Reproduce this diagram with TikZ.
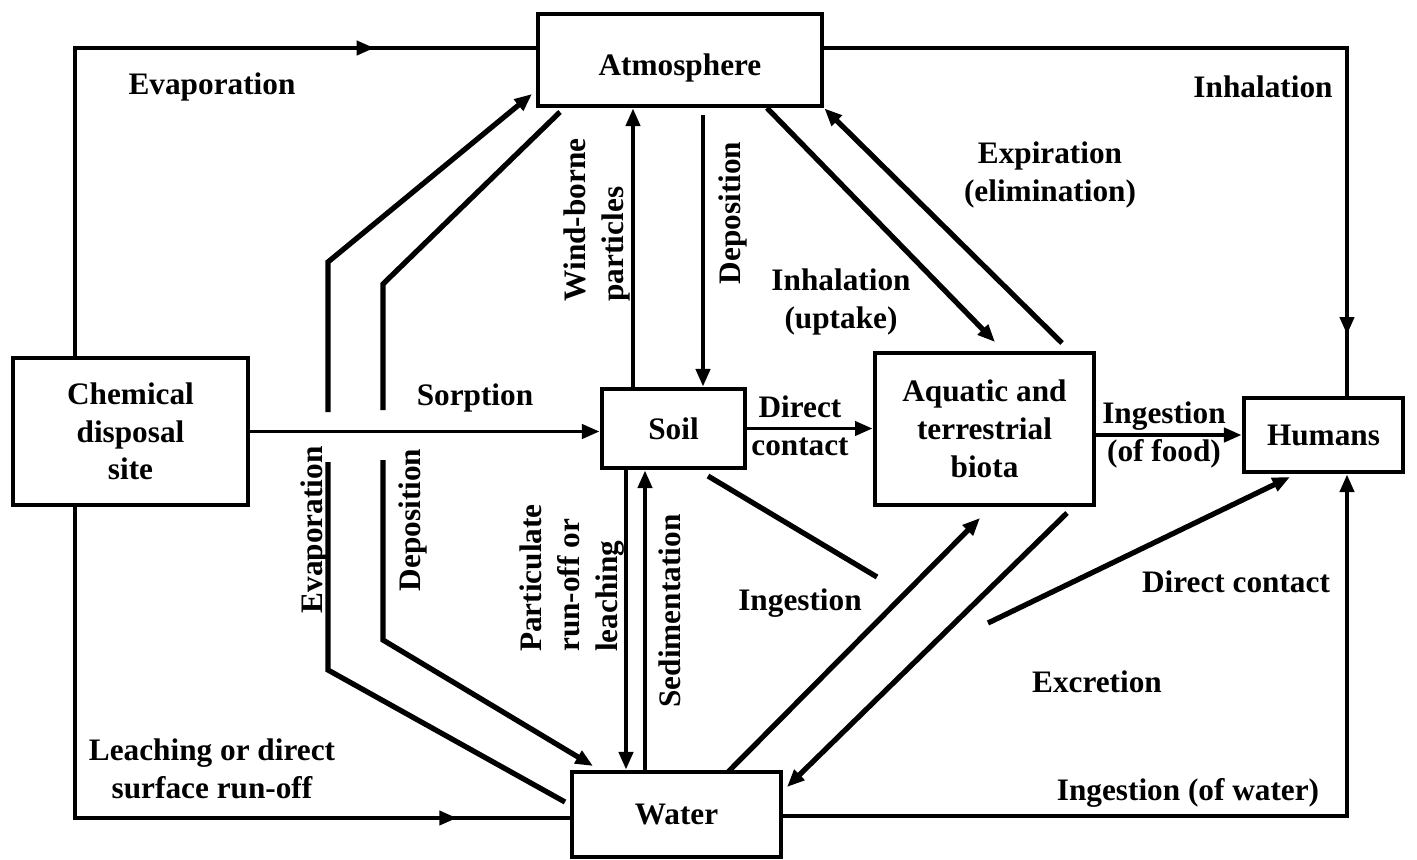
\documentclass[tikz,border=0pt]{standalone}
\usepackage{fontspec}
\setmainfont{Liberation Serif}
\usetikzlibrary{arrows.meta,decorations.markings}
\tikzset{
	box/.style={draw, line width=2.8pt, inner sep=0pt, align=center},
	lbl/.style={inner sep=0pt, align=center},
	flow/.style={line width=2.2pt},
	heavy/.style={line width=3pt},
	midarrow/.style={postaction={decorate}, decoration={markings, mark=at position #1 with {\arrow{Triangle[length=10pt,width=8pt]}}}}
}

\begin{document}
\begin{tikzpicture}[x=0.02cm, y=-0.02cm, >={Triangle[length=10pt,width=8pt]},
	every node/.append style={font=\bfseries\fontsize{17.8}{21.5}\selectfont}]
	\useasboundingbox (0,0) rectangle (1417,859);

	% compartments
	\node[box, minimum width=5.68cm, minimum height=1.84cm, text height=0.75cm] (atm) at (680,60) {Atmosphere};
	\node[box, minimum width=4.70cm, minimum height=2.94cm] (chem) at (130.5,431.5) {Chemical\\disposal\\site};
	\node[box, minimum width=2.86cm, minimum height=1.58cm] (soil) at (673.5,428.5) {Soil};
	\node[box, minimum width=4.38cm, minimum height=3.04cm] (biota) at (984.5,429) {Aquatic and\\terrestrial\\biota};
	\node[box, minimum width=3.18cm, minimum height=1.48cm] (hum) at (1323.5,435) {Humans};
	\node[box, minimum width=4.18cm, minimum height=1.70cm] (water) at (676.5,814.5) {Water};

	% corner and free points
	\coordinate (tl) at (75,48);
	\coordinate (bl) at (75,818);
	\coordinate (tr) at (1347,48);
	\coordinate (br) at (1347,816);
	\coordinate (wb) at (633,0);
	\coordinate (dv) at (703,0);
	\coordinate (pr) at (626,0);
	\coordinate (sd) at (645,0);
	\coordinate (ev1) at (565,802);
	\coordinate (ev2) at (328,670);
	\coordinate (ev3) at (328,462);
	\coordinate (ev4) at (328,412);
	\coordinate (ev5) at (328,262);
	\coordinate (ev6) at (532,94);
	\coordinate (dp1) at (560,112);
	\coordinate (dp2) at (383,284);
	\coordinate (dp3) at (383,410);
	\coordinate (dp4) at (383,460);
	\coordinate (dp5) at (383,640);
	\coordinate (dp6) at (593,766);
	\coordinate (iu1) at (767,108);
	\coordinate (iu2) at (995,342);
	\coordinate (ex1) at (1062,343);
	\coordinate (ig1) at (708,476);
	\coordinate (ig2) at (877,577);
	\coordinate (wa1) at (728,772);
	\coordinate (wa2) at (980,518);
	\coordinate (xc1) at (1067,513);
	\coordinate (xc2) at (787,787);
	\coordinate (dh1) at (988,623);
	\coordinate (dh2) at (1290,477);

	% outer loops
	\draw[flow, midarrow=0.79] (chem.north -| tl) -- (tl) -- (tl -| atm.west);
	\draw[flow, midarrow=0.86] (chem.south -| bl) -- (bl) -- (bl -| water.west);
	\draw[flow, midarrow=0.93] (tr -| atm.east) -- (tr) -- (tr |- hum.north);
	\draw[flow, ->] (br -| water.east) -- (br) -- (br |- hum.south);
	\draw[flow, ->] (chem.east) -- (chem.east -| soil.west);

	% evaporation and deposition between water and atmosphere
	\draw[heavy] (ev1) -- (ev2) -- (ev3);
	\draw[heavy, ->] (ev4) -- (ev5) -- (ev6);
	\draw[heavy] (dp1) -- (dp2) -- (dp3);
	\draw[heavy, ->] (dp4) -- (dp5) -- (dp6);

	% soil links
	\draw[flow, ->] (soil.north -| wb) -- (wb |- atm.south);
	\draw[flow, ->, shorten <=4pt] (atm.south -| dv) -- (dv |- soil.north);
	\draw[flow, ->] (soil.south -| pr) -- (pr |- water.north);
	\draw[flow, ->] (water.north -| sd) -- (sd |- soil.south);
	\draw[flow, ->] (soil.east) -- (soil.east -| biota.west);
	\draw[heavy] (ig1) -- (ig2);

	% biota links
	\draw[heavy, ->] (iu1) -- (iu2);
	\draw[heavy, ->] (ex1) -- (atm.south east);
	\draw[flow, ->] (biota.east |- hum.west) -- (hum.west);
	\draw[heavy, ->] (wa1) -- (wa2);
	\draw[heavy, ->] (xc1) -- (xc2);
	\draw[heavy, ->] (dh1) -- (dh2);

	% labels
	\node[lbl] (evap) at (212,87) {Evaporation};
	\node[lbl] (leach) at (212,769) {Leaching or direct\\surface run-off};
	\node[lbl] (sorp) at (475,398) {Sorption};
	\node[lbl, rotate=90] (evapv) at (315,530) {Evaporation};
	\node[lbl, rotate=90] (depv) at (413,520) {Deposition};
	\node[lbl, rotate=90, align=left] (wind) at (597,220) {Wind-borne\\particles};
	\node[lbl, rotate=90] (depo) at (733,213) {Deposition};
	\node[lbl, rotate=90, align=left] (part) at (572,578) {Particulate\\run-off or\\leaching};
	\node[lbl, rotate=90] (sedi) at (670,611) {Sedimentation};
	\node[lbl] (dcon) at (800,426) {Direct\\contact};
	\node[lbl] (inup) at (841,302) {Inhalation\\(uptake)};
	\node[lbl] (expi) at (1050,175) {Expiration\\(elimination)};
	\node[lbl] (inha) at (1263,87) {Inhalation};
	\node[lbl] (food) at (1164,435) {Ingestion\\(of food)};
	\node[lbl] (inge) at (800,603) {Ingestion};
	\node[lbl] (dcon2) at (1236,582) {Direct contact};
	\node[lbl] (excr) at (1097,682) {Excretion};
	\node[lbl] (wing) at (1188,793) {Ingestion (of water)};
\end{tikzpicture}
\end{document}
